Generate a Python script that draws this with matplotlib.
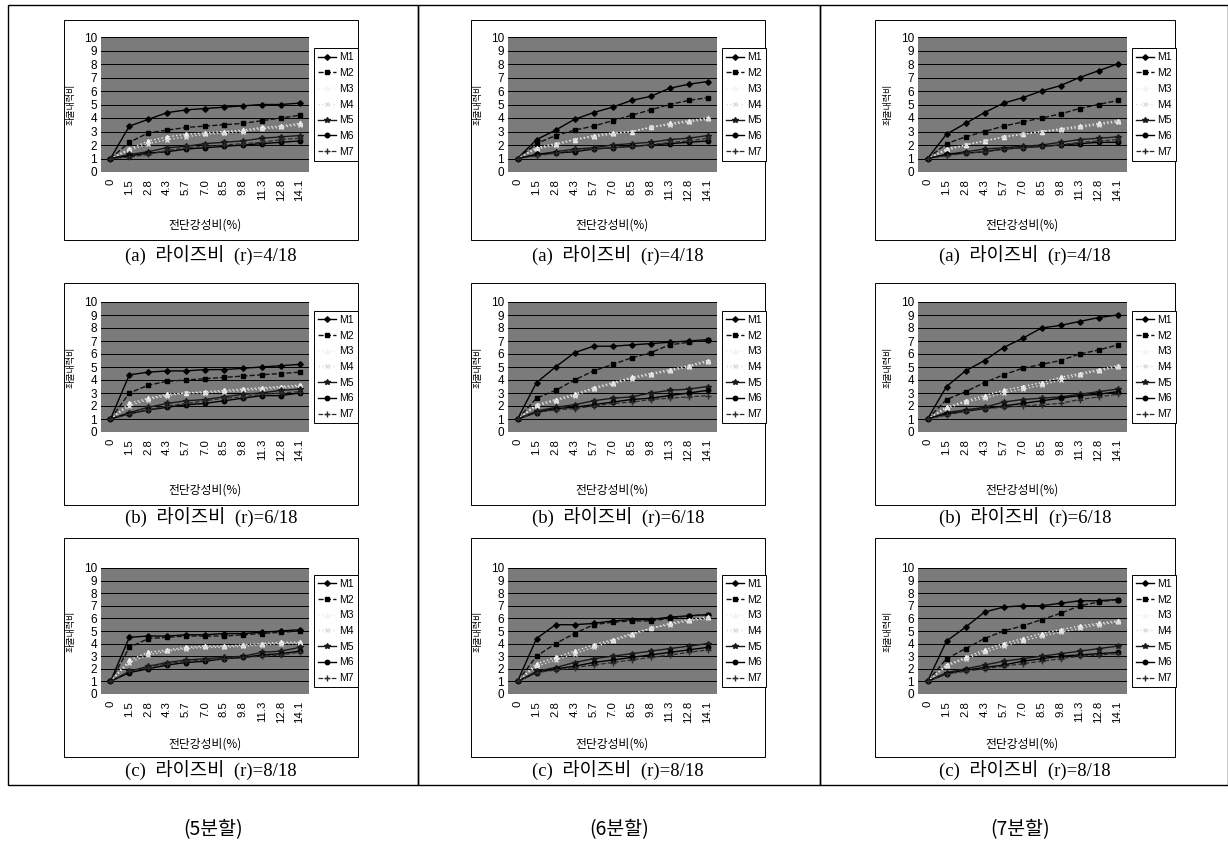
import matplotlib
matplotlib.use("Agg")
import matplotlib.pyplot as plt
from matplotlib.patches import Rectangle

# ---------------- data ----------------
x_labels = ["0", "1.5", "2.8", "4.3", "5.7", "7.0", "8.5", "9.8", "11.3", "12.8", "14.1"]
series_names = ["M1", "M2", "M3", "M4", "M5", "M6", "M7"]
y_ticks = list(range(0, 11))

# 5분할 (a) r=4/18
p5a = [
    [1, 3.4, 3.9, 4.4, 4.6, 4.7, 4.8, 4.9, 5.0, 5.0, 5.1],
    [1, 2.2, 2.9, 3.1, 3.3, 3.4, 3.5, 3.6, 3.8, 4.0, 4.2],
    [1, 1.7, 2.3, 2.6, 2.8, 2.9, 3.0, 3.1, 3.3, 3.4, 3.6],
    [1, 1.6, 2.1, 2.4, 2.6, 2.8, 2.9, 3.0, 3.2, 3.3, 3.5],
    [1, 1.3, 1.5, 1.8, 1.9, 2.1, 2.2, 2.3, 2.5, 2.6, 2.7],
    [1, 1.2, 1.4, 1.5, 1.7, 1.8, 1.9, 2.0, 2.1, 2.2, 2.3],
    [1, 1.1, 1.3, 1.6, 1.8, 1.9, 2.0, 2.1, 2.2, 2.4, 2.5],
]
# 6분할 (a)
p6a = [
    [1, 2.4, 3.1, 3.9, 4.4, 4.8, 5.3, 5.6, 6.2, 6.5, 6.7],
    [1, 2.1, 2.7, 3.1, 3.4, 3.8, 4.2, 4.6, 5.0, 5.3, 5.5],
    [1, 1.8, 2.1, 2.4, 2.7, 2.9, 3.0, 3.3, 3.6, 3.8, 4.0],
    [1, 1.7, 2.0, 2.4, 2.6, 2.8, 3.0, 3.3, 3.5, 3.7, 3.9],
    [1, 1.3, 1.5, 1.7, 1.8, 2.0, 2.1, 2.2, 2.4, 2.5, 2.7],
    [1, 1.3, 1.4, 1.5, 1.7, 1.8, 1.9, 2.0, 2.1, 2.2, 2.3],
    [1, 1.2, 1.4, 1.6, 1.7, 1.8, 1.9, 2.0, 2.2, 2.3, 2.5],
]
# 7분할 (a)
p7a = [
    [1, 2.8, 3.6, 4.4, 5.1, 5.5, 6.0, 6.4, 7.0, 7.5, 8.0],
    [1, 2.1, 2.6, 3.0, 3.4, 3.7, 4.0, 4.3, 4.7, 5.0, 5.3],
    [1, 1.7, 2.0, 2.3, 2.6, 2.8, 3.0, 3.2, 3.4, 3.6, 3.8],
    [1, 1.6, 2.0, 2.3, 2.6, 2.8, 3.0, 3.1, 3.3, 3.5, 3.7],
    [1, 1.3, 1.5, 1.7, 1.8, 1.9, 2.0, 2.2, 2.4, 2.5, 2.6],
    [1, 1.3, 1.4, 1.5, 1.7, 1.8, 1.9, 2.0, 2.1, 2.2, 2.2],
    [1, 1.2, 1.4, 1.5, 1.7, 1.8, 1.9, 2.0, 2.2, 2.3, 2.4],
]
# 5분할 (b) r=6/18
p5b = [
    [1, 4.4, 4.6, 4.7, 4.7, 4.8, 4.8, 4.9, 5.0, 5.1, 5.2],
    [1, 3.0, 3.6, 3.9, 4.0, 4.1, 4.2, 4.3, 4.4, 4.5, 4.6],
    [1, 2.2, 2.6, 2.9, 3.0, 3.1, 3.2, 3.3, 3.4, 3.5, 3.6],
    [1, 2.0, 2.5, 2.8, 3.0, 3.0, 3.1, 3.2, 3.3, 3.4, 3.5],
    [1, 1.5, 1.9, 2.2, 2.4, 2.5, 2.7, 2.9, 3.0, 3.2, 3.3],
    [1, 1.4, 1.7, 1.9, 2.1, 2.2, 2.4, 2.6, 2.8, 2.8, 3.0],
    [1, 1.4, 1.7, 2.0, 2.2, 2.4, 2.6, 2.7, 2.9, 3.0, 3.1],
]
# 6분할 (b)
p6b = [
    [1, 3.8, 5.0, 6.1, 6.6, 6.6, 6.7, 6.8, 6.9, 7.0, 7.1],
    [1, 2.6, 3.2, 4.0, 4.7, 5.2, 5.7, 6.1, 6.7, 6.9, 7.1],
    [1, 2.1, 2.5, 2.9, 3.4, 3.8, 4.2, 4.5, 4.8, 5.1, 5.5],
    [1, 2.0, 2.4, 2.8, 3.3, 3.7, 4.1, 4.4, 4.7, 5.0, 5.4],
    [1, 1.6, 1.9, 2.1, 2.4, 2.6, 2.7, 3.0, 3.2, 3.3, 3.5],
    [1, 1.5, 1.8, 1.9, 2.1, 2.3, 2.5, 2.6, 2.8, 3.0, 3.2],
    [1, 1.5, 1.7, 1.8, 2.0, 2.2, 2.3, 2.5, 2.6, 2.7, 2.8],
]
# 7분할 (b)
p7b = [
    [1, 3.5, 4.7, 5.5, 6.5, 7.2, 8.0, 8.2, 8.5, 8.8, 9.0],
    [1, 2.5, 3.1, 3.8, 4.4, 4.9, 5.2, 5.5, 6.0, 6.3, 6.7],
    [1, 1.9, 2.4, 2.8, 3.2, 3.5, 3.8, 4.2, 4.5, 4.8, 5.1],
    [1, 1.8, 2.3, 2.6, 3.0, 3.3, 3.6, 4.0, 4.4, 4.7, 5.0],
    [1, 1.5, 1.7, 1.9, 2.3, 2.5, 2.6, 2.7, 2.9, 3.1, 3.3],
    [1, 1.4, 1.6, 1.8, 2.0, 2.2, 2.4, 2.6, 2.8, 2.9, 3.1],
    [1, 1.3, 1.6, 1.8, 1.9, 2.0, 2.1, 2.2, 2.5, 2.7, 2.9],
]
# 5분할 (c) r=8/18
p5c = [
    [1, 4.5, 4.6, 4.6, 4.7, 4.7, 4.8, 4.8, 4.9, 5.0, 5.1],
    [1, 3.7, 4.4, 4.5, 4.6, 4.6, 4.6, 4.7, 4.8, 4.9, 5.0],
    [1, 2.7, 3.3, 3.5, 3.7, 3.8, 3.8, 3.9, 4.0, 4.1, 4.1],
    [1, 2.5, 3.1, 3.4, 3.6, 3.7, 3.7, 3.8, 3.9, 4.0, 4.0],
    [1, 1.8, 2.2, 2.5, 2.7, 2.8, 2.9, 3.0, 3.3, 3.4, 3.7],
    [1, 1.7, 2.0, 2.3, 2.5, 2.6, 2.8, 2.9, 3.1, 3.2, 3.4],
    [1, 1.8, 2.1, 2.4, 2.6, 2.7, 2.8, 2.9, 3.0, 3.1, 3.3],
]
# 6분할 (c)
p6c = [
    [1, 4.4, 5.5, 5.5, 5.6, 5.8, 5.9, 5.9, 6.1, 6.2, 6.3],
    [1, 3.0, 4.0, 4.8, 5.5, 5.7, 5.8, 5.8, 6.0, 6.2, 6.3],
    [1, 2.4, 2.9, 3.4, 3.9, 4.3, 4.8, 5.2, 5.6, 5.9, 6.1],
    [1, 2.2, 2.7, 3.2, 3.7, 4.2, 4.7, 5.2, 5.5, 5.8, 6.0],
    [1, 1.8, 2.1, 2.5, 2.8, 3.0, 3.2, 3.4, 3.6, 3.8, 4.0],
    [1, 1.7, 2.0, 2.2, 2.5, 2.7, 2.9, 3.1, 3.3, 3.5, 3.7],
    [1, 1.7, 1.9, 2.1, 2.3, 2.5, 2.7, 2.9, 3.1, 3.3, 3.5],
]
# 7분할 (c)
p7c = [
    [1, 4.2, 5.3, 6.5, 6.9, 7.0, 7.0, 7.2, 7.4, 7.4, 7.5],
    [1, 2.8, 3.6, 4.4, 5.0, 5.4, 5.9, 6.4, 7.0, 7.3, 7.5],
    [1, 2.3, 2.9, 3.5, 4.0, 4.4, 4.8, 5.1, 5.4, 5.6, 5.8],
    [1, 2.2, 2.8, 3.3, 3.8, 4.2, 4.6, 4.9, 5.2, 5.5, 5.7],
    [1, 1.7, 2.0, 2.3, 2.6, 2.8, 3.0, 3.2, 3.4, 3.6, 3.8],
    [1, 1.6, 1.9, 2.1, 2.3, 2.6, 2.8, 3.0, 3.1, 3.2, 3.3],
    [1, 1.6, 1.8, 2.0, 2.2, 2.4, 2.6, 2.8, 3.0, 3.1, 3.2],
]

captions = ["(a)  라이즈비  (r)=4/18", "(b)  라이즈비  (r)=6/18", "(c)  라이즈비  (r)=8/18"]
column_titles = ["(5분할)", "(6분할)", "(7분할)"]
x_title = "전단강성비(%)"
y_title = "좌굴내력비"

panels = [[p5a, p6a, p7a], [p5b, p6b, p7b], [p5c, p6c, p7c]]

# ---------------- styles ----------------
styles = [
    dict(color="black", ls="-", marker="D", ms=2.8, mfc="black", mec="black", lw=1.0),
    dict(color="#111111", ls="--", marker="s", ms=3.0, mfc="black", mec="black", lw=1.0),
    dict(color="#eeeeee", ls=":", marker="^", ms=3.0, mfc="#f4f4f4", mec="#f4f4f4", lw=1.0),
    dict(color="#dddddd", ls=":", marker="x", ms=3.0, mfc="#dddddd", mec="#dddddd", lw=1.0),
    dict(color="#1a1a1a", ls="-", marker="*", ms=4.0, mfc="#1a1a1a", mec="#1a1a1a", lw=1.0),
    dict(color="black", ls="-", marker="o", ms=3.2, mfc="black", mec="black", lw=1.0),
    dict(color="#2a2a2a", ls="--", marker="+", ms=4.0, mfc="#2a2a2a", mec="#2a2a2a", lw=0.9),
]

W, H = 1228, 861
fig = plt.figure(figsize=(W / 100, H / 100), dpi=100)
fig.patch.set_facecolor("white")

KR = ["Noto Sans CJK KR", "DejaVu Sans"]
SER = ["Liberation Serif", "Noto Sans CJK KR"]
SANS = ["Liberation Sans", "DejaVu Sans"]


def fx(px):
    return px / W


def fy(py):
    return 1 - py / H


def rect(x0, y0, x1, y1, lw=0.8, fc="none", z=-5):
    r = Rectangle((fx(x0), fy(y1)), (x1 - x0) / W, (y1 - y0) / H,
                  transform=fig.transFigure, facecolor=fc, edgecolor="black",
                  lw=lw, zorder=z)
    fig.add_artist(r)


# outer column boxes
col_box = [(8, 418), (418, 820), (820, 1228)]
for (a, b) in col_box:
    rect(a, 5, b, 785, lw=1.0, z=-6)

plot_x = [(101, 309), (508, 717), (918, 1127)]
frame_x = [(64, 358), (471, 765), (875, 1175)]
plot_y = [(37, 172), (302, 432), (568, 694)]
frame_y = [(20, 240), (283, 505), (538, 757)]
xlabel_y = [225, 490, 744]
caption_y = [256, 518, 771]

xs = list(range(len(x_labels)))

for r in range(3):
    for c in range(3):
        fx0, fx1 = frame_x[c]
        fy0, fy1 = frame_y[r]
        rect(fx0, fy0, fx1, fy1, lw=0.7, fc="white", z=-4)
        x0, x1 = plot_x[c]
        y0, y1 = plot_y[r]
        ax = fig.add_axes([fx(x0), fy(y1), (x1 - x0) / W, (y1 - y0) / H])
        ax.set_facecolor("#7b7b7b")
        data = panels[r][c]
        for name, vals, st in zip(series_names, data, styles):
            ax.plot(xs, vals, label=name, **st)
        ax.set_xlim(-0.5, len(x_labels) - 0.5)
        ax.set_ylim(0, 10)
        ax.set_yticks(y_ticks)
        ax.set_yticklabels([str(v) for v in y_ticks], fontsize=8.5, family=SANS)
        ax.set_xticks(xs)
        ax.set_xticklabels(x_labels, rotation=90, fontsize=8.2, family=SANS)
        ax.tick_params(length=0, pad=3)
        ax.tick_params(axis="x", pad=5)
        ax.yaxis.grid(True, color="black", lw=0.7)
        ax.set_axisbelow(True)
        for s in ax.spines.values():
            s.set_visible(False)
        ax.set_ylabel(y_title, fontsize=6.5, family=KR, labelpad=6)
        leg = ax.legend(loc="center left", bbox_to_anchor=(1.025, 0.5), fontsize=7.5,
                        frameon=True, fancybox=False, edgecolor="black", framealpha=1,
                        borderpad=0.4, labelspacing=0.55, handlelength=1.7,
                        handletextpad=0.3, borderaxespad=0)
        leg.get_frame().set_linewidth(0.7)
        for t in leg.get_texts():
            t.set_family(SANS)
        cx = (x0 + x1) / 2
        fig.text(fx(cx), fy(xlabel_y[r]), x_title, ha="center", va="center",
                 fontsize=8.5, family=KR)
        fig.text(fx((fx0 + fx1) / 2), fy(caption_y[r]), captions[r], ha="center",
                 va="center", fontsize=13.5, family=SER)

title_x = [213, 619, 1020]
for c in range(3):
    fig.text(fx(title_x[c]), fy(830), column_titles[c], ha="center", va="center",
             fontsize=14, family=KR)

fig.savefig("out.png", dpi=100, facecolor="white")
